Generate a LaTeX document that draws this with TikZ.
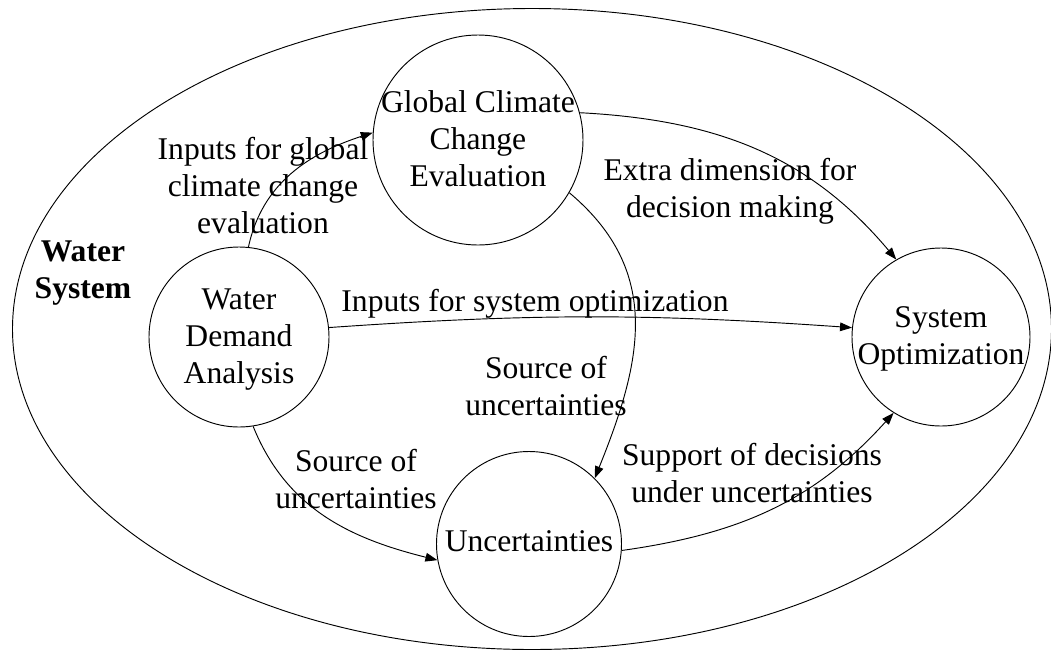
\documentclass[tikz,border=0pt]{standalone}
\usepackage{fontspec}
\setmainfont{Liberation Serif}
\usetikzlibrary{arrows.meta}

\tikzset{
  bubble/.style={circle, draw, line width=0.7pt, inner sep=0pt},
  caption/.style={align=center, inner sep=0pt,
    font=\fontsize{23.7}{27.75}\selectfont},
  conn/.style={line width=0.7pt, -{Triangle[length=9pt,width=6.5pt]}}
}

\begin{document}
\begin{tikzpicture}[x=0.75pt, y=-0.75pt]
  \useasboundingbox (0,0) rectangle (1051,651);

  % enclosing system boundary
  \draw[line width=0.7pt] (532,329) ellipse [x radius=519.5, y radius=320.5];
  \node[caption, font=\fontsize{23.7}{27.75}\selectfont\bfseries] (sys) at (83,273) {Water\\System};

  % components
  \node[bubble, minimum size=157.5pt] (G) at (478,140) {};
  \node[bubble, minimum size=135pt]   (W) at (239,337) {};
  \node[bubble, minimum size=133.5pt] (S) at (941,337) {};
  \node[bubble, minimum size=138.75pt] (U) at (529,544) {};

  \node[caption] (Gt) at (478,139) {Global Climate\\Change\\Evaluation};
  \node[caption] (Wt) at (239,340) {Water\\Demand\\Analysis};
  \node[caption] (St) at (941,339) {System\\Optimization};
  \node[caption] (Ut) at (529,541) {Uncertainties};

  % relations
  \draw[conn] (W.84)  to[out=78, in=198] (G.176);
  \draw[conn] (G.15)  to[out=-3, in=130] (S.120);
  \draw[conn] (W.6)   to[out=4, in=176] (S.174);
  \draw[conn] (G.-30) to[out=-40, in=68, looseness=1.1] (U.45);
  \draw[conn] (W.-81) to[out=-68, in=166] (U.190);
  \draw[conn] (U.-4)  to[out=8, in=228] (S.238);

  % relation labels
  \node[caption] (l1) at (263,186) {Inputs for global\\climate change\\evaluation};
  \node[caption] (l2) at (730,191) {Extra dimension for\\decision making};
  \node[caption] (l3) at (535,304) {Inputs for system optimization};
  \node[caption] (l4) at (546,386) {Source of\\uncertainties};
  \node[caption] (l5) at (356,479) {Source of\\uncertainties};
  \node[caption] (l6) at (752,473) {Support of decisions\\under uncertainties};
\end{tikzpicture}
\end{document}
